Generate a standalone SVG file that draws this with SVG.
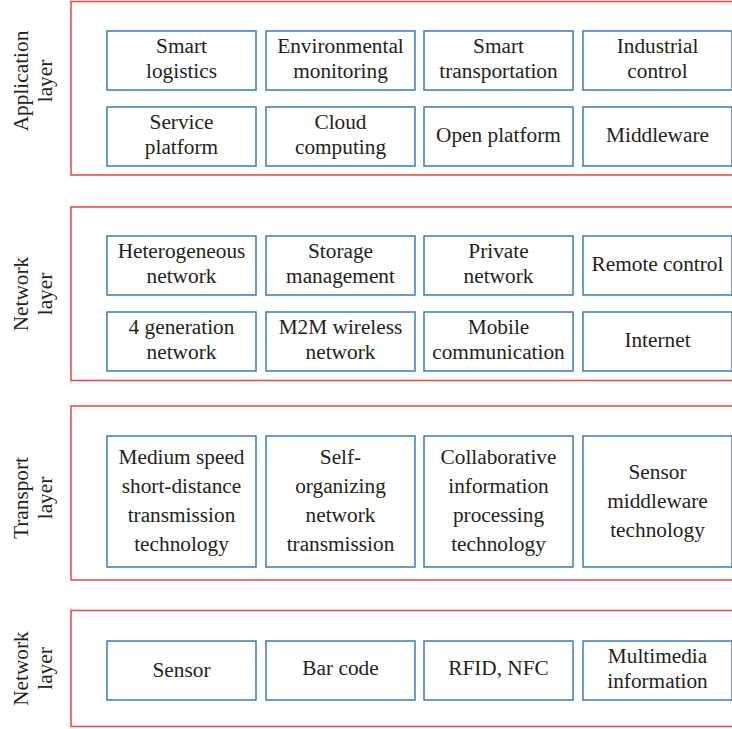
<svg xmlns="http://www.w3.org/2000/svg" width="732" height="729" viewBox="0 0 732 729">
<style>
.layer{fill:none;stroke:#e8453c;stroke-width:1.5}
.box{fill:#fff;stroke:#3a7bbf;stroke-width:1.5}
text{font-family:'Liberation Serif','DejaVu Serif',serif;font-size:21.3px;fill:#231f20;text-anchor:middle}
</style>
<rect width="732" height="729" fill="#fff"/>
<g id="layer-application">
<rect class="layer" x="71" y="1.5" width="670" height="173.5"/>
<text transform="translate(28,81) rotate(-90)">Application</text>
<text transform="translate(52,81) rotate(-90)">layer</text>
</g>
<g id="layer-network">
<rect class="layer" x="71" y="207" width="670" height="173.5"/>
<text transform="translate(28,294) rotate(-90)">Network</text>
<text transform="translate(52,294) rotate(-90)">layer</text>
</g>
<g id="layer-transport">
<rect class="layer" x="71" y="406" width="670" height="174"/>
<text transform="translate(28,498) rotate(-90)">Transport</text>
<text transform="translate(52,498) rotate(-90)">layer</text>
</g>
<g id="layer-perception">
<rect class="layer" x="71" y="610.5" width="670" height="116"/>
<text transform="translate(28,668.5) rotate(-90)">Network</text>
<text transform="translate(52,668.5) rotate(-90)">layer</text>
</g>

<g id="n-smart-logistics"><rect class="box" x="107" y="31" width="149" height="59"/><text x="181.5" y="53">Smart</text><text x="181.5" y="78">logistics</text></g>
<g id="n-env-monitoring"><rect class="box" x="266" y="31" width="149" height="59"/><text x="340.5" y="53">Environmental</text><text x="340.5" y="78">monitoring</text></g>
<g id="n-smart-transport"><rect class="box" x="424" y="31" width="149" height="59"/><text x="498.5" y="53">Smart</text><text x="498.5" y="78">transportation</text></g>
<g id="n-industrial-control"><rect class="box" x="583" y="31" width="149" height="59"/><text x="657.5" y="53">Industrial</text><text x="657.5" y="78">control</text></g>

<g id="n-service-platform"><rect class="box" x="107" y="107" width="149" height="59"/><text x="181.5" y="129">Service</text><text x="181.5" y="154">platform</text></g>
<g id="n-cloud-computing"><rect class="box" x="266" y="107" width="149" height="59"/><text x="340.5" y="129">Cloud</text><text x="340.5" y="154">computing</text></g>
<g id="n-open-platform"><rect class="box" x="424" y="107" width="149" height="59"/><text x="498.5" y="142">Open platform</text></g>
<g id="n-middleware"><rect class="box" x="583" y="107" width="149" height="59"/><text x="657.5" y="142">Middleware</text></g>

<g id="n-heterogeneous"><rect class="box" x="107" y="236" width="149" height="59"/><text x="181.5" y="258">Heterogeneous</text><text x="181.5" y="283">network</text></g>
<g id="n-storage"><rect class="box" x="266" y="236" width="149" height="59"/><text x="340.5" y="258">Storage</text><text x="340.5" y="283">management</text></g>
<g id="n-private"><rect class="box" x="424" y="236" width="149" height="59"/><text x="498.5" y="258">Private</text><text x="498.5" y="283">network</text></g>
<g id="n-remote"><rect class="box" x="583" y="236" width="149" height="59"/><text x="657.5" y="271">Remote control</text></g>

<g id="n-4g"><rect class="box" x="107" y="312" width="149" height="59"/><text x="181.5" y="334">4 generation</text><text x="181.5" y="359">network</text></g>
<g id="n-m2m"><rect class="box" x="266" y="312" width="149" height="59"/><text x="340.5" y="334">M2M wireless</text><text x="340.5" y="359">network</text></g>
<g id="n-mobile"><rect class="box" x="424" y="312" width="149" height="59"/><text x="498.5" y="334">Mobile</text><text x="498.5" y="359">communication</text></g>
<g id="n-internet"><rect class="box" x="583" y="312" width="149" height="59"/><text x="657.5" y="347">Internet</text></g>

<g id="n-medium-speed"><rect class="box" x="107" y="436" width="149" height="131"/><text x="181.5" y="464">Medium speed</text><text x="181.5" y="493">short-distance</text><text x="181.5" y="522">transmission</text><text x="181.5" y="551">technology</text></g>
<g id="n-self-organizing"><rect class="box" x="266" y="436" width="149" height="131"/><text x="340.5" y="464">Self-</text><text x="340.5" y="493">organizing</text><text x="340.5" y="522">network</text><text x="340.5" y="551">transmission</text></g>
<g id="n-collaborative"><rect class="box" x="424" y="436" width="149" height="131"/><text x="498.5" y="464">Collaborative</text><text x="498.5" y="493">information</text><text x="498.5" y="522">processing</text><text x="498.5" y="551">technology</text></g>
<g id="n-sensor-middleware"><rect class="box" x="583" y="436" width="149" height="131"/><text x="657.5" y="479">Sensor</text><text x="657.5" y="508">middleware</text><text x="657.5" y="537">technology</text></g>

<g id="n-sensor"><rect class="box" x="107" y="641" width="149" height="59"/><text x="181.5" y="677">Sensor</text></g>
<g id="n-barcode"><rect class="box" x="266" y="641" width="149" height="59"/><text x="340.5" y="675">Bar code</text></g>
<g id="n-rfid"><rect class="box" x="424" y="641" width="149" height="59"/><text x="498.5" y="675">RFID, NFC</text></g>
<g id="n-multimedia"><rect class="box" x="583" y="641" width="149" height="59"/><text x="657.5" y="663">Multimedia</text><text x="657.5" y="688">information</text></g>

<g id="connectors"></g>
</svg>
